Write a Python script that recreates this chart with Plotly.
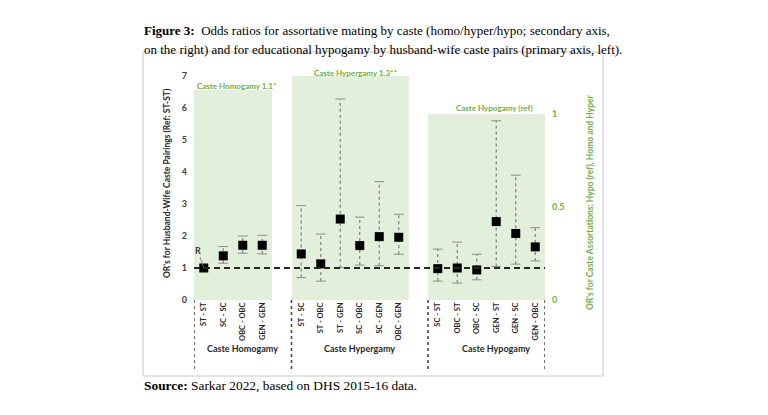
import plotly.graph_objects as go

# husband - wife caste pairs, "" = blank slot between groups
categories = ["ST - ST", "SC - SC", "OBC - OBC", "GEN - GEN", "",
              "ST - SC", "ST - OBC", "ST - GEN", "SC - OBC", "SC - GEN", "OBC - GEN", "",
              "SC - ST", "OBC - ST", "OBC - SC", "GEN - ST", "GEN - SC", "GEN - OBC"]
odds = [1.0, 1.38, 1.71, 1.71, None,
        1.44, 1.13, 2.53, 1.70, 1.98, 1.96, None,
        0.98, 1.0, 0.94, 2.45, 2.08, 1.66]
lower = [None, 1.15, 1.46, 1.44, None,
         0.70, 0.59, 1.01, 1.09, 1.07, 1.43, None,
         0.59, 0.53, 0.63, 1.05, 1.12, 1.22]
upper = [None, 1.67, 2.00, 2.02, None,
         2.95, 2.06, 6.28, 2.59, 3.70, 2.68, None,
         1.59, 1.81, 1.43, 5.60, 3.90, 2.26]

group_names = ["Caste Homogamy", "Caste Hypergamy", "Caste Hypogamy"]
group_sizes = [4, 6, 6]
group_or = [1.13, 1.3, 1.0]
group_labels = ["Caste Homogamy 1.1*", "Caste Hypergamy 1.3**", "Caste Hypogamy (ref)"]

GREEN = "#70ad47"
DARK = "#404040"
FONT = "Lato"
W, H = 768, 415
OFF = 8  # page body margin


def px(x):
    return (x - OFF) / W


def py(y):
    return 1 - (y - OFF) / H


pos = list(range(len(categories)))

# group spans (slot start, number of pairs); a blank slot follows each group
starts, spans = [], []
s = 0
for n in group_sizes:
    starts.append(s)
    s += n + 1
    spans.append(n)

fig = go.Figure()

# green bars (right axis, drawn on base axis so points sit above)
fig.add_trace(go.Bar(
    x=[st + (n - 1) / 2 for st, n in zip(starts, spans)],
    y=group_or, width=spans,
    marker=dict(color="#e2efda", line=dict(width=0)),
    yaxis="y", hoverinfo="skip", showlegend=False,
))

# dotted CI lines
ex, ey = [], []
cx, cy = [], []
for p, lo, hi in zip(pos, lower, upper):
    if lo is None:
        continue
    ex += [p, p, None]
    ey += [lo, hi, None]
    cx += [p, p]
    cy += [lo, hi]
fig.add_trace(go.Scatter(
    x=ex, y=ey, mode="lines", yaxis="y2",
    line=dict(color="#7f7f7f", width=1.2, dash="dot"),
    hoverinfo="skip", showlegend=False,
))
fig.add_trace(go.Scatter(
    x=cx, y=cy, mode="markers", yaxis="y2",
    marker=dict(symbol="line-ew-open", size=7, color="#8c8c8c",
                line=dict(color="#8c8c8c", width=1)),
    hoverinfo="skip", showlegend=False,
))
fig.add_trace(go.Scatter(
    x=[p for p, v in zip(pos, odds) if v is not None],
    y=[v for v in odds if v is not None],
    mode="markers", yaxis="y2",
    marker=dict(symbol="square", size=9, color="black"),
    showlegend=False,
))

fig.add_shape(type="line", xref="x", yref="y2", x0=-0.5, x1=len(categories) - 0.5,
              y0=1, y1=1, line=dict(color="#262626", width=2, dash="6px,4px"))

# group separators below axis
for b in [st - 0.5 for st in starts] + [len(categories) - 0.5]:
    fig.add_shape(type="line", xref="x", yref="paper", x0=b, x1=b,
                  y0=py(300), y1=py(370), line=dict(color=DARK, width=1.5, dash="3px,3px"))

for st, n, name in zip(starts, spans, group_names):
    fig.add_annotation(x=st + n / 2, xref="x", y=py(356), yref="paper",
                       text="<b>%s</b>" % name, showarrow=False,
                       font=dict(family=FONT, size=9, color="#262626"))

fig.add_annotation(x=1.7, xref="x", y=py(79), yref="paper", text="<b>%s</b>" % group_labels[0],
                   showarrow=False, font=dict(family=FONT, size=8, color=GREEN))
fig.add_annotation(x=7.8, xref="x", y=py(66), yref="paper", text="<b>%s</b>" % group_labels[1],
                   showarrow=False, font=dict(family=FONT, size=8, color=GREEN))
fig.add_annotation(x=14.9, xref="x", y=py(101), yref="paper", text="<b>%s</b>" % group_labels[2],
                   showarrow=False, font=dict(family=FONT, size=8, color=GREEN))

# reference marker label
fig.add_annotation(x=0, y=1, xref="x", yref="y2", text="<b>R</b>", ax=-6, ay=-18,
                   showarrow=True, arrowhead=0, arrowwidth=0.8, arrowcolor="#7f7f7f",
                   font=dict(family=FONT, size=9, color=DARK))

# axis titles
fig.add_annotation(x=px(160), y=py(183), xref="paper", yref="paper", textangle=-90,
                   text="<b>OR's for Husband-Wife Caste Pairings (Ref: ST-ST)</b>",
                   showarrow=False, font=dict(family=FONT, size=8.5, color="#262626"))
fig.add_annotation(x=px(597), y=py(202), xref="paper", yref="paper", textangle=-90,
                   text="<b>OR's for Caste Assortations: Hypo (ref), Homo and Hyper</b>",
                   showarrow=False, font=dict(family=FONT, size=8.5, color=GREEN))

# figure caption
fig.add_annotation(x=px(142), y=py(21), xref="paper", yref="paper", xanchor="left",
                   text="<b>Figure 3:</b>  Odds ratios for assortative mating by caste (homo/hyper/hypo; secondary axis,",
                   showarrow=False, font=dict(family="Liberation Serif", size=13, color="black"))
fig.add_annotation(x=px(142), y=py(40), xref="paper", yref="paper", xanchor="left",
                   text="on the right) and for educational hypogamy by husband-wife caste pairs (primary axis, left).",
                   showarrow=False, font=dict(family="Liberation Serif", size=13, color="black"))
fig.add_annotation(x=px(142), y=py(395), xref="paper", yref="paper", xanchor="left",
                   text="<b>Source:</b> Sarkar 2022, based on DHS 2015-16 data.",
                   showarrow=False, font=dict(family="Liberation Serif", size=13.4, color="black"))

# chart frame
fig.add_shape(type="rect", xref="paper", yref="paper", x0=px(143), x1=px(603),
              y0=py(376), y1=py(52), line=dict(color="#c8c8c8", width=1), layer="below")

fig.update_layout(
    width=W, height=H,
    margin=dict(l=0, r=0, t=0, b=0, autoexpand=False),
    paper_bgcolor="white", plot_bgcolor="white",
    font=dict(family=FONT),
    bargap=0,
    xaxis=dict(
        domain=[px(194), px(545)], range=[-0.5, len(categories) - 0.5],
        tickvals=[p for p, c in zip(pos, categories) if c],
        ticktext=["<b>%s</b>" % c for c in categories if c],
        tickangle=-90, tickfont=dict(family=FONT, size=7.5, color="#262626"),
        showgrid=False, zeroline=False, showline=False, ticks="", automargin=False,
    ),
    yaxis=dict(
        domain=[py(300), py(76)], range=[0, 1.204], side="right",
        tickvals=[0, 0.5, 1], ticktext=["<b>0</b>", "<b>0.5</b>", "<b>1</b>"],
        tickfont=dict(family=FONT, size=9, color=GREEN),
        showgrid=False, zeroline=False, showline=False, ticklabelstandoff=6, automargin=False,
    ),
    yaxis2=dict(
        overlaying="y", side="left", range=[0, 7],
        tickvals=list(range(8)), ticktext=["<b>%d</b>" % i for i in range(8)],
        tickfont=dict(family=FONT, size=9, color=DARK),
        showgrid=False, zeroline=False, showline=False, ticklabelstandoff=6, automargin=False,
    ),
)

fig.write_html("out.html")
